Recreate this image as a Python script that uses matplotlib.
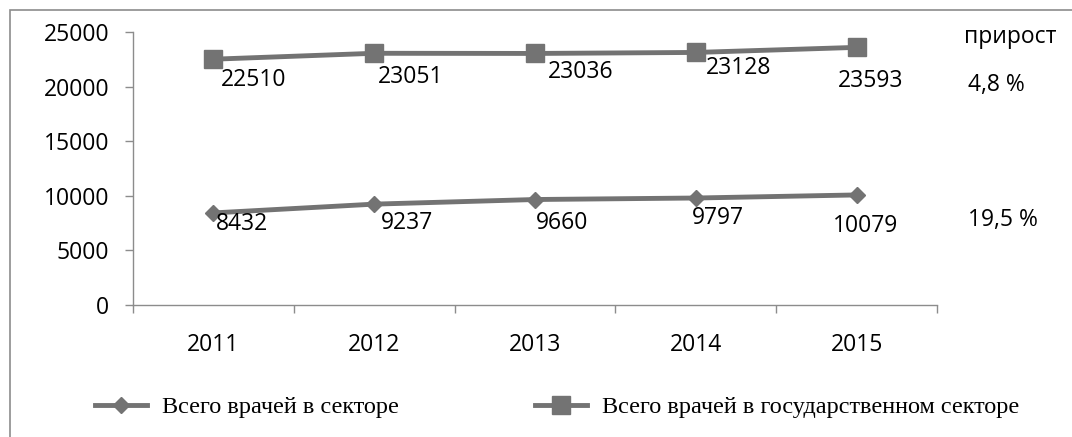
import matplotlib
matplotlib.use("Agg")
import matplotlib.pyplot as plt
from matplotlib.patches import Rectangle

# data
years = ["2011", "2012", "2013", "2014", "2015"]
all_doctors = [8432, 9237, 9660, 9797, 10079]
state_doctors = [22510, 23051, 23036, 23128, 23593]
growth_title = "прирост"
growth_state = "4,8 %"
growth_all = "19,5 %"
label_all = "Всего врачей в секторе"
label_state = "Всего врачей в государственном секторе"

W, H = 1072, 437
plt.rcParams['font.family'] = ['Open Sans', 'DejaVu Sans']
fig = plt.figure(figsize=(W / 100, H / 100), dpi=100)


def fx(x):
    return x / W


def fy(y):
    return 1 - y / H


# outer frame (only left and top edges are visible in the picture)
fig.patches.append(Rectangle((fx(10), fy(H + 20)), fx(W + 20), fy(10) - fy(H + 20),
                             transform=fig.transFigure, fill=False,
                             edgecolor='#8c8c8c', linewidth=1.2))

ax = fig.add_axes([fx(133), fy(305), fx(937) - fx(133), fy(32) - fy(305)])
gray = '#737373'
xs = list(range(len(years)))
fs = 16.5

ax.plot(xs, all_doctors, color=gray, lw=3.5, marker='D', ms=8,
        label=label_all)
ax.plot(xs, state_doctors, color=gray, lw=3.5, marker='s', ms=13,
        label=label_state)

# label offsets in px (dx right, dy down)
off_all = [(29, 11), (33, 19), (27, 23), (22, 20), (9, 31)]
off_state = [(40, 21), (36, 24), (46, 19), (43, 16), (14, 34)]
for i, v in enumerate(all_doctors):
    dx, dy = off_all[i]
    ax.annotate(str(v), (i, v), xytext=(dx * 0.72, -dy * 0.72),
                textcoords='offset points', ha='center', va='center', fontsize=fs)
for i, v in enumerate(state_doctors):
    dx, dy = off_state[i]
    ax.annotate(str(v), (i, v), xytext=(dx * 0.72, -dy * 0.72),
                textcoords='offset points', ha='center', va='center', fontsize=fs)

ax.set_xlim(-0.5, len(years) - 0.5)
ax.set_ylim(0, 25000)
ax.set_yticks(range(0, 25001, 5000))
ax.tick_params(axis='y', length=6, width=1, color='#8c8c8c', labelsize=fs, pad=11)

ax.set_xticks([i - 0.5 for i in range(len(years) + 1)])
ax.set_xticklabels([])
ax.tick_params(axis='x', which='major', length=6, width=1, color='#8c8c8c')
ax.set_xticks(xs, minor=True)
ax.set_xticklabels(years, minor=True)
ax.tick_params(axis='x', which='minor', length=0, labelsize=fs, pad=20)

for s in ['top', 'right']:
    ax.spines[s].set_visible(False)
for s in ['left', 'bottom']:
    ax.spines[s].set_color('#8c8c8c')
    ax.spines[s].set_linewidth(1)

fig.text(fx(1010), fy(37), growth_title, ha='center', va='center', fontsize=fs)
fig.text(fx(968), fy(85), growth_state, ha='left', va='center', fontsize=fs)
fig.text(fx(968), fy(220), growth_all, ha='left', va='center', fontsize=fs)

fig.legend(loc='center left', bbox_to_anchor=(fx(95), fy(407)), ncol=2,
           frameon=False, prop={'family': 'Liberation Serif', 'size': 17.5},
           handlelength=2.15, handletextpad=0.6, columnspacing=5.6,
           borderpad=0, borderaxespad=0, markerscale=1.0)

fig.savefig("out.png", dpi=100)
